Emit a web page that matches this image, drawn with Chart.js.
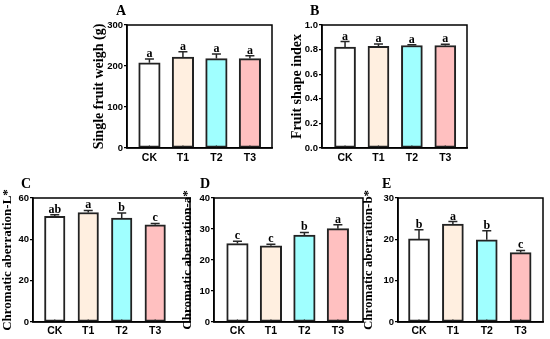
<!DOCTYPE html>
<html>
<head>
<meta charset="utf-8">
<script src="https://cdn.jsdelivr.net/npm/chart.js@4"></script>
<style>
  html, body { margin: 0; padding: 0; background: #fff; }
  #wrap { position: relative; width: 550px; height: 339px; }
  #wrap canvas { position: absolute; left: 0; top: 0; }
</style>
</head>
<body>
<div id="wrap"></div>
<script>
const categories = ["CK", "T1", "T2", "T3"];
const fills = ["#ffffff", "#ffefe0", "#a0ffff", "#ffc0c0"];

// A - single fruit weight
const weightMean = [208, 222, 218, 218];
const weightSd = [9, 13, 11, 7];
const weightSig = ["a", "a", "a", "a"];

// B - fruit shape index
const shapeMean = [0.82, 0.826, 0.833, 0.833];
const shapeSd = [0.045, 0.02, 0.006, 0.01];
const shapeSig = ["a", "a", "a", "a"];

// C - L*
const lMean = [51.1, 53.0, 50.3, 47.0];
const lSd = [0.8, 1.0, 2.4, 0.7];
const lSig = ["ab", "a", "b", "c"];

// D - a*
const aMean = [25.3, 24.6, 28.0, 30.1];
const aSd = [0.75, 0.5, 0.9, 1.3];
const aSig = ["c", "c", "b", "a"];

// E - b*
const bMean = [20.1, 23.7, 19.9, 16.8];
const bSd = [2.2, 0.6, 2.2, 0.5];
const bSig = ["b", "a", "b", "c"];

Chart.defaults.font.family = "'Liberation Sans', Arial, sans-serif";
Chart.defaults.color = "#000";

const xAxisH = 17;

function extras(p) {
  return {
    id: "extras",
    afterDraw(chart) {
      const { ctx, chartArea: a, scales: { x, y } } = chart;
      ctx.save();
      // small inward ticks under bars
      ctx.strokeStyle = "#262626";
      ctx.lineWidth = 1.2;
      categories.forEach((c, i) => {
        const px = x.getPixelForValue(i);
        ctx.beginPath();
        ctx.moveTo(px, a.bottom);
        ctx.lineTo(px, a.bottom - 2.5);
        ctx.stroke();
      });
      // error bars + letters
      ctx.lineWidth = 1.5;
      ctx.fillStyle = "#000";
      ctx.font = "bold 12px 'Liberation Serif', serif";
      ctx.textAlign = "center";
      ctx.textBaseline = "alphabetic";
      p.means.forEach((m, i) => {
        const px = x.getPixelForValue(i);
        const y0 = y.getPixelForValue(m);
        const y1 = y.getPixelForValue(m + p.sds[i]);
        ctx.beginPath();
        ctx.moveTo(px, y0);
        ctx.lineTo(px, y1);
        ctx.moveTo(px - 4.5, y1);
        ctx.lineTo(px + 4.5, y1);
        ctx.stroke();
        ctx.fillText(p.letters[i], px, y1 - 2);
      });
      // frame
      ctx.strokeStyle = "#000";
      ctx.lineWidth = 1.5;
      ctx.strokeRect(a.left, a.top, a.right - a.left, a.bottom - a.top);
      // panel letter
      ctx.font = "bold 14px 'Liberation Serif', serif";
      ctx.textAlign = "left";
      ctx.fillText(p.tag, p.tagX, p.tagY);
      ctx.restore();
    }
  };
}

function makePanel(p) {
  const canvas = document.createElement("canvas");
  canvas.width = 550;
  canvas.height = 339;
  document.getElementById("wrap").appendChild(canvas);
  const padLeft = p.titleX - p.titleSize / 2;
  new Chart(canvas, {
    type: "bar",
    data: {
      datasets: [{
        data: p.means.map((v, i) => ({ x: i, y: v })),
        backgroundColor: fills,
        borderColor: "#222",
        borderWidth: 2,
        borderSkipped: false,
        barThickness: p.barW
      }]
    },
    options: {
      responsive: false,
      animation: false,
      layout: {
        padding: {
          left: padLeft,
          top: p.box[1],
          right: 550 - p.box[2],
          bottom: 339 - p.box[3] - xAxisH
        }
      },
      plugins: { legend: { display: false }, tooltip: { enabled: false } },
      scales: {
        x: {
          type: "linear",
          offset: false,
          min: p.xMin,
          max: p.xMax,
          afterBuildTicks: s => { s.ticks = categories.map((c, i) => ({ value: i })); },
          afterFit: s => { s.height = xAxisH; },
          grid: { display: false, drawTicks: false, offset: false },
          border: { display: true, color: "#000", width: 1.5 },
          ticks: {
            callback: v => categories[v],
            font: { size: 10.5, weight: "bold" },
            color: "#000",
            padding: p.xPad,
            autoSkip: false,
            maxRotation: 0
          }
        },
        y: {
          min: 0,
          max: p.yMax,
          afterFit: s => { s.width = p.box[0] - padLeft; },
          ticks: {
            stepSize: p.yStep,
            callback: v => p.decimals ? v.toFixed(1) : v,
            font: { size: 9.5, weight: "bold" },
            color: "#000",
            padding: 1
          },
          grid: { drawOnChartArea: false, tickLength: 3, color: "#000", lineWidth: 1.2 },
          border: { color: "#000", width: 1.5 },
          title: {
            display: true,
            text: p.title,
            font: { family: "'Liberation Serif', serif", size: p.titleSize, weight: "bold", lineHeight: 1 },
            color: "#000",
            padding: 0
          }
        }
      }
    },
    plugins: [extras(p)]
  });
}

makePanel({ tag: "A", tagX: 116, tagY: 15, title: "Single fruit weigh (g)", titleSize: 14, titleX: 99,
  box: [127, 25, 272, 148], xMin: -0.67, xMax: 3.66, barW: 21.5, xPad: 4,
  yMax: 300, yStep: 100, means: weightMean, sds: weightSd, letters: weightSig });

makePanel({ tag: "B", tagX: 310, tagY: 15, title: "Fruit shape index", titleSize: 14, titleX: 297.5,
  box: [322, 25, 467, 148], xMin: -0.69, xMax: 3.65, barW: 21, xPad: 4, decimals: true,
  yMax: 1.0, yStep: 0.2, means: shapeMean, sds: shapeSd, letters: shapeSig });

makePanel({ tag: "C", tagX: 21, tagY: 188, title: "Chromatic aberration-L*", titleSize: 13, titleX: 7.5,
  box: [33, 198, 190, 322], xMin: -0.65, xMax: 4.04, barW: 20.5, xPad: 3,
  yMax: 60, yStep: 20, means: lMean, sds: lSd, letters: lSig });

makePanel({ tag: "D", tagX: 200, tagY: 188, title: "Chromatic aberration-a*", titleSize: 13, titleX: 188,
  box: [214, 198, 363, 322], xMin: -0.7, xMax: 3.75, barW: 21.5, xPad: 3,
  yMax: 40, yStep: 10, means: aMean, sds: aSd, letters: aSig });

makePanel({ tag: "E", tagX: 382, tagY: 188, title: "Chromatic aberration-b*", titleSize: 13, titleX: 369,
  box: [398, 198, 543, 322], xMin: -0.62, xMax: 3.66, barW: 21, xPad: 3,
  yMax: 30, yStep: 10, means: bMean, sds: bSd, letters: bSig });
</script>
</body>
</html>
